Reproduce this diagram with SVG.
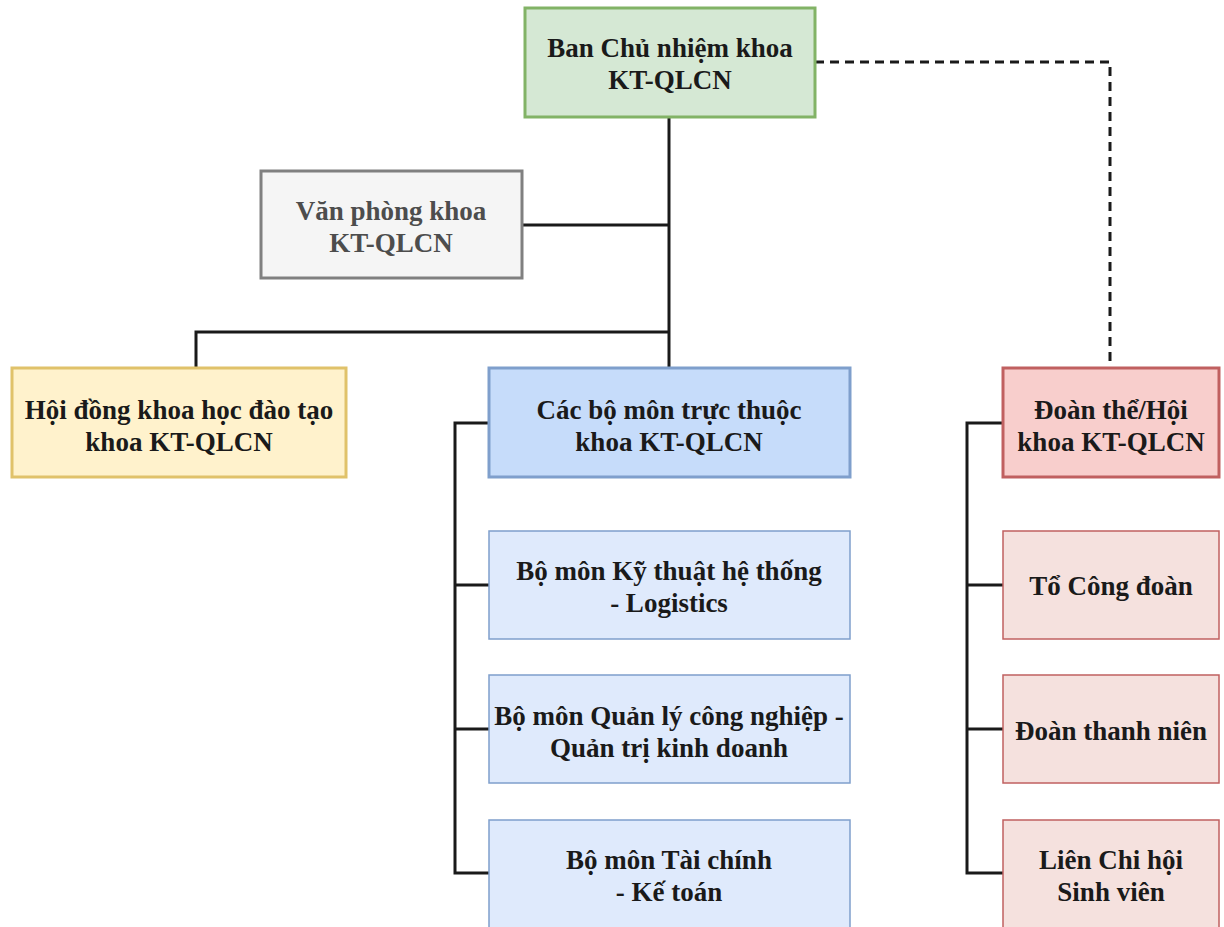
<svg xmlns="http://www.w3.org/2000/svg" width="1224" height="927" viewBox="0 0 1224 927">
<style>
text{font-family:"Liberation Serif","Times New Roman",serif;font-weight:bold;font-size:27px;text-anchor:middle;fill:#1a1a1a}
.c{fill:none;stroke:#1a1a1a;stroke-width:3}
.d{fill:none;stroke:#1a1a1a;stroke-width:3;stroke-dasharray:9 6}
.main{stroke-width:3}
.sub{stroke-width:1.5}
</style>
<rect width="1224" height="927" fill="#ffffff"/>
<g id="connectors">
<path class="c" d="M669 117 V367"/>
<path class="c" d="M522 225 H669"/>
<path class="c" d="M669 332 H196 V368"/>
<path class="d" d="M815 62 H1110 V367"/>
<path class="c" d="M489 423 H455 V873 H489 M455 585 H489 M455 729 H489"/>
<path class="c" d="M1002 423 H967 V873 H1003 M967 585 H1003 M967 729 H1003"/>
</g>
<g id="ban-chu-nhiem">
<rect class="main" x="525" y="8" width="290" height="109" fill="#d5e8d4" stroke="#82b366"/>
<text x="670" y="57">Ban Chủ nhiệm khoa</text>
<text x="670" y="89">KT-QLCN</text>
</g>
<g id="van-phong">
<rect class="main" x="261" y="171" width="261" height="107" fill="#f5f5f5" stroke="#808080"/>
<text x="391" y="220" style="fill:#4d4d4d">Văn phòng khoa</text>
<text x="391" y="252" style="fill:#4d4d4d">KT-QLCN</text>
</g>
<g id="hoi-dong">
<rect class="main" x="12" y="368" width="334" height="109" fill="#fff2cc" stroke="#e0c26a"/>
<text x="179" y="419">Hội đồng khoa học đào tạo</text>
<text x="179" y="451">khoa KT-QLCN</text>
</g>
<g id="cac-bo-mon">
<rect class="main" x="489" y="368" width="361" height="109" fill="#c6dcfa" stroke="#7f9fcc"/>
<text x="669" y="419">Các bộ môn trực thuộc</text>
<text x="669" y="451">khoa KT-QLCN</text>
</g>
<g id="doan-the">
<rect class="main" x="1003" y="368" width="216" height="109" fill="#f8cecc" stroke="#c06060"/>
<text x="1111" y="419">Đoàn thể/Hội</text>
<text x="1111" y="451">khoa KT-QLCN</text>
</g>
<g id="bm-ktht">
<rect class="sub" x="489" y="531" width="361" height="108" fill="#dfeafc" stroke="#7f9fcc"/>
<text x="669" y="580">Bộ môn Kỹ thuật hệ thống</text>
<text x="669" y="612">- Logistics</text>
</g>
<g id="bm-qlcn">
<rect class="sub" x="489" y="675" width="361" height="108" fill="#dfeafc" stroke="#7f9fcc"/>
<text x="669" y="725">Bộ môn Quản lý công nghiệp -</text>
<text x="669" y="757">Quản trị kinh doanh</text>
</g>
<g id="bm-tckt">
<rect class="sub" x="489" y="820" width="361" height="110" fill="#dfeafc" stroke="#7f9fcc"/>
<text x="669" y="869">Bộ môn Tài chính</text>
<text x="669" y="901">- Kế toán</text>
</g>
<g id="to-cong-doan">
<rect class="sub" x="1003" y="531" width="216" height="108" fill="#f5e1de" stroke="#c06060"/>
<text x="1111" y="595">Tổ Công đoàn</text>
</g>
<g id="doan-thanh-nien">
<rect class="sub" x="1003" y="675" width="216" height="108" fill="#f5e1de" stroke="#c06060"/>
<text x="1111" y="740">Đoàn thanh niên</text>
</g>
<g id="lien-chi-hoi">
<rect class="sub" x="1003" y="820" width="216" height="110" fill="#f5e1de" stroke="#c06060"/>
<text x="1111" y="869">Liên Chi hội</text>
<text x="1111" y="901">Sinh viên</text>
</g>
</svg>
